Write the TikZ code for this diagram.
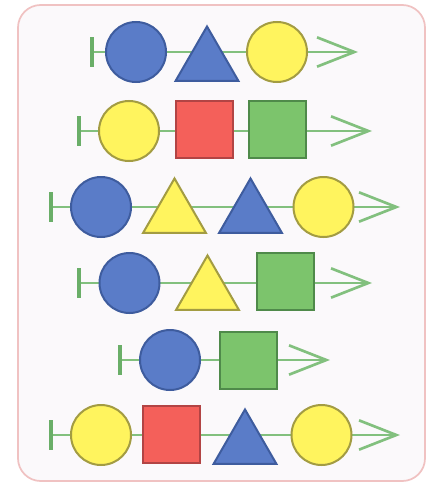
\documentclass[tikz,border=0pt]{standalone}
\usetikzlibrary{arrows.meta,shapes.geometric}
\definecolor{frameC}{HTML}{F0C2C2}
\definecolor{bgC}{HTML}{FBF9FB}
\definecolor{lineC}{HTML}{82C07E}
\definecolor{barC}{HTML}{6AAE68}
\definecolor{blueF}{HTML}{5A7CC8}
\definecolor{blueD}{HTML}{3E5C9E}
\definecolor{yelF}{HTML}{FFF45E}
\definecolor{yelD}{HTML}{A39C42}
\definecolor{redF}{HTML}{F4605A}
\definecolor{redD}{HTML}{B24444}
\definecolor{grnF}{HTML}{7CC46C}
\definecolor{grnD}{HTML}{4F8A4A}
\tikzset{
  shp/.style={inner sep=0pt, outer sep=0pt, line width=1.5pt},
  bcirc/.style={shp, circle, minimum size=45pt, fill=blueF, draw=blueD},
  ycirc/.style={shp, circle, minimum size=45pt, fill=yelF, draw=yelD},
  rsq/.style={shp, rectangle, minimum size=42.75pt, fill=redF, draw=redD},
  gsq/.style={shp, rectangle, minimum size=42.75pt, fill=grnF, draw=grnD},
  tri/.style={shp, regular polygon, regular polygon sides=3, minimum size=54.5pt},
  btri/.style={tri, fill=blueF, draw=blueD},
  ytri/.style={tri, fill=yelF, draw=yelD},
  rowline/.style={draw=lineC, line width=1.6pt,
    {Bar[width=22pt,line width=2.8pt,color=barC]}-{Straight Barb[length=28pt,width=22pt,line width=2pt]}},
}
\begin{document}
\begin{tikzpicture}[x=0.75pt,y=-0.75pt]
\useasboundingbox (0,0) rectangle (433,485);
\draw[frameC, line width=1.3pt, fill=bgC, rounded corners=17pt] (18,5) rectangle (425,481);
% row 1
\coordinate (s1) at (90,52); \coordinate (e1) at (358,52);
\draw[rowline] (s1) -- (e1);
\node[bcirc] (r1a) at (136,52) {};
\node[btri] (r1b) at (207,62.8) {};
\node[ycirc] (r1c) at (277,52) {};
% row 2
\coordinate (s2) at (77,131); \coordinate (e2) at (372,131);
\draw[rowline] (s2) -- (e2);
\node[ycirc] (r2a) at (129,131) {};
\node[rsq] (r2b) at (204,129) {};
\node[gsq] (r2c) at (277.5,129) {};
% row 3
\coordinate (s3) at (49,207); \coordinate (e3) at (400,207);
\draw[rowline] (s3) -- (e3);
\node[bcirc] (r3a) at (101,207) {};
\node[ytri] (r3b) at (174.5,214.8) {};
\node[btri] (r3c) at (250.5,214.8) {};
\node[ycirc] (r3d) at (323.5,207) {};
% row 4
\coordinate (s4) at (77,283); \coordinate (e4) at (372,283);
\draw[rowline] (s4) -- (e4);
\node[bcirc] (r4a) at (129.5,283) {};
\node[ytri] (r4b) at (207.5,291.8) {};
\node[gsq] (r4c) at (285,281) {};
% row 5
\coordinate (s5) at (118,360); \coordinate (e5) at (330,360);
\draw[rowline] (s5) -- (e5);
\node[bcirc] (r5a) at (170,360) {};
\node[gsq] (r5b) at (248,360) {};
% row 6
\coordinate (s6) at (49,435); \coordinate (e6) at (400,435);
\draw[rowline] (s6) -- (e6);
\node[ycirc] (r6a) at (101,435) {};
\node[rsq] (r6b) at (171.5,434.5) {};
\node[btri] (r6c) at (245,445.8) {};
\node[ycirc] (r6d) at (321.5,435) {};
\end{tikzpicture}
\end{document}
